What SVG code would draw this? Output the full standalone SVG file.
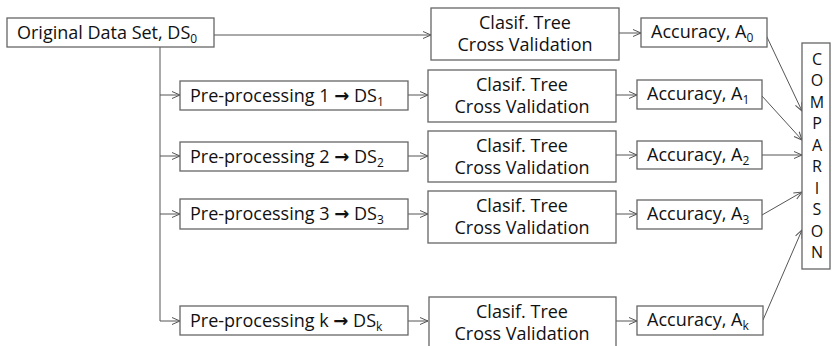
<svg xmlns="http://www.w3.org/2000/svg" width="832" height="346" viewBox="0 0 832 346">
<defs>
<marker id="ah" markerWidth="10" markerHeight="10" refX="9" refY="4" orient="auto" markerUnits="userSpaceOnUse">
<path d="M1,0.5 L9,4 L1,7.5" fill="none" stroke="#555" stroke-width="1"/>
</marker>
</defs>
<style>
.box{fill:#fff;stroke:#666;stroke-width:1.3}
.t{font-family:"Open Sans","Liberation Sans",Arial,sans-serif;font-size:18px;fill:#111}
.c{text-anchor:middle}
.sub{font-size:12px}
.arw{font-family:"DejaVu Sans",sans-serif;font-weight:bold;font-size:18px}
.ln{fill:none;stroke:#555;stroke-width:1}
.ar{fill:none;stroke:#555;stroke-width:1;marker-end:url(#ah)}
.v{font-size:16px}
</style>
<rect width="832" height="346" fill="#fff"/>
<g id="connectors">
<line class="ar" x1="214" y1="35" x2="431" y2="35"/>
<line class="ln" x1="160" y1="47" x2="160" y2="321"/>
<line class="ar" x1="160" y1="95" x2="180" y2="95"/>
<line class="ar" x1="160" y1="156" x2="180" y2="156"/>
<line class="ar" x1="160" y1="214" x2="180" y2="214"/>
<line class="ar" x1="160" y1="321" x2="180" y2="321"/>
<line class="ar" x1="408" y1="95" x2="428" y2="95"/>
<line class="ar" x1="408" y1="156" x2="428" y2="156"/>
<line class="ar" x1="408" y1="214" x2="428" y2="214"/>
<line class="ar" x1="408" y1="321" x2="428" y2="321"/>
<line class="ar" x1="619" y1="33" x2="641" y2="33"/>
<line class="ar" x1="616" y1="95" x2="637" y2="95"/>
<line class="ar" x1="616" y1="155" x2="637" y2="155"/>
<line class="ar" x1="616" y1="214" x2="637" y2="214"/>
<line class="ar" x1="616" y1="321" x2="637" y2="321"/>
<line class="ar" x1="766" y1="35" x2="802" y2="111"/>
<line class="ar" x1="762" y1="96" x2="802" y2="140"/>
<line class="ar" x1="762" y1="155" x2="802" y2="155"/>
<line class="ar" x1="762" y1="215" x2="802" y2="192"/>
<line class="ar" x1="763" y1="320" x2="802" y2="230"/>
</g>
<g id="orig">
<rect class="box" x="7" y="18" width="207" height="29"/>
<text class="t" x="17" y="39">Original Data Set, DS<tspan class="sub" dy="4">0</tspan></text>
</g>
<g id="pre1">
<rect class="box" x="180" y="81" width="228" height="29"/>
<text class="t" x="190" y="102">Pre-processing 1 <tspan class="arw">→</tspan> DS<tspan class="sub" dy="4">1</tspan></text>
</g>
<g id="pre2">
<rect class="box" x="180" y="142" width="228" height="29"/>
<text class="t" x="190" y="163">Pre-processing 2 <tspan class="arw">→</tspan> DS<tspan class="sub" dy="4">2</tspan></text>
</g>
<g id="pre3">
<rect class="box" x="180" y="199" width="228" height="30"/>
<text class="t" x="190" y="220">Pre-processing 3 <tspan class="arw">→</tspan> DS<tspan class="sub" dy="4">3</tspan></text>
</g>
<g id="prek">
<rect class="box" x="180" y="306" width="228" height="29"/>
<text class="t" x="190" y="327">Pre-processing k <tspan class="arw">→</tspan> DS<tspan class="sub" dy="4">k</tspan></text>
</g>
<g id="clasif0">
<rect class="box" x="431" y="8" width="188" height="52"/>
<text class="t c" x="525" y="29">Clasif. Tree</text>
<text class="t c" x="525" y="51">Cross Validation</text>
</g>
<g id="clasif1">
<rect class="box" x="428" y="70" width="188" height="52"/>
<text class="t c" x="522" y="91">Clasif. Tree</text>
<text class="t c" x="522" y="113">Cross Validation</text>
</g>
<g id="clasif2">
<rect class="box" x="428" y="131" width="188" height="51"/>
<text class="t c" x="522" y="152">Clasif. Tree</text>
<text class="t c" x="522" y="174">Cross Validation</text>
</g>
<g id="clasif3">
<rect class="box" x="428" y="191" width="188" height="52"/>
<text class="t c" x="522" y="212">Clasif. Tree</text>
<text class="t c" x="522" y="234">Cross Validation</text>
</g>
<g id="clasifk">
<rect class="box" x="429" y="297" width="187" height="55"/>
<text class="t c" x="522" y="318">Clasif. Tree</text>
<text class="t c" x="522" y="340">Cross Validation</text>
</g>
<g id="acc0">
<rect class="box" x="641" y="18" width="126" height="29"/>
<text class="t" x="651" y="38">Accuracy, A<tspan class="sub" dy="4">0</tspan></text>
</g>
<g id="acc1">
<rect class="box" x="637" y="80" width="125" height="29"/>
<text class="t" x="647" y="100">Accuracy, A<tspan class="sub" dy="4">1</tspan></text>
</g>
<g id="acc2">
<rect class="box" x="637" y="141" width="125" height="28"/>
<text class="t" x="647" y="161">Accuracy, A<tspan class="sub" dy="4">2</tspan></text>
</g>
<g id="acc3">
<rect class="box" x="637" y="200" width="125" height="29"/>
<text class="t" x="647" y="220">Accuracy, A<tspan class="sub" dy="4">3</tspan></text>
</g>
<g id="acck">
<rect class="box" x="637" y="306" width="126" height="29"/>
<text class="t" x="647" y="326">Accuracy, A<tspan class="sub" dy="4">k</tspan></text>
</g>
<g id="comparison">
<rect class="box" x="802" y="43" width="28" height="226"/>
<text class="t c v" x="817" y="65"><tspan x="817" y="65">C</tspan><tspan x="817" y="86.4">O</tspan><tspan x="817" y="107.9">M</tspan><tspan x="817" y="129.3">P</tspan><tspan x="817" y="150.8">A</tspan><tspan x="817" y="172.2">R</tspan><tspan x="817" y="193.6">I</tspan><tspan x="817" y="215.1">S</tspan><tspan x="817" y="236.5">O</tspan><tspan x="817" y="258">N</tspan></text>
</g>
</svg>
